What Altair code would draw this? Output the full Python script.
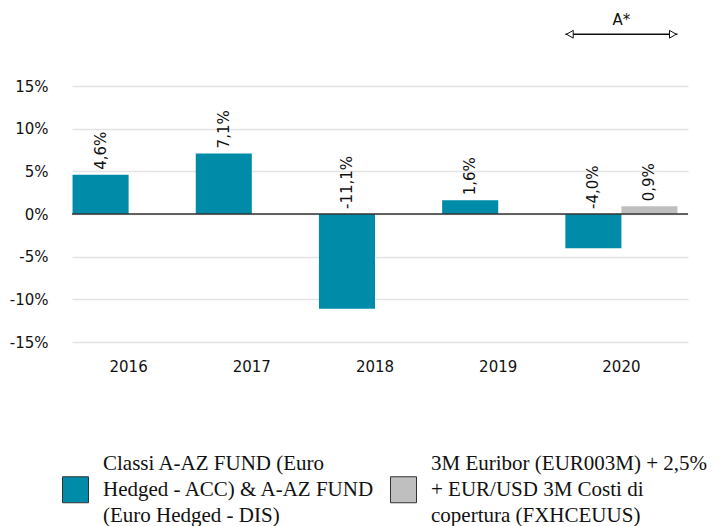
import altair as alt
import pandas as pd

years = ["2016", "2017", "2018", "2019", "2020"]
fund_values = [4.6, 7.1, -11.1, 1.6, -4.0]
bench_years = ["2020"]
bench_values = [0.9]
series_names = [
    "Classi A-AZ FUND (Euro|Hedged - ACC) & A-AZ FUND|(Euro Hedged - DIS)",
    "3M Euribor (EUR003M) + 2,5%|+ EUR/USD 3M Costi di|copertura (FXHCEUUS)",
]
colors = ["#008BA8", "#BFBFBF"]
y_ticks = [-15, -10, -5, 0, 5, 10, 15]
arrow_year = ["2020"]
arrow_label = "A*"

rows = []
for y, v in zip(years, fund_values):
    rows.append({"year": y, "series": series_names[0], "value": v})
for y, v in zip(bench_years, bench_values):
    rows.append({"year": y, "series": series_names[1], "value": v})
df = pd.DataFrame(rows)
df["label"] = df["value"].map(lambda v: f"{v:.1f}".replace(".", ",") + "%")
df["labelpos"] = df["value"].clip(lower=0)

arrow_df = pd.DataFrame({"year": arrow_year, "txt": [arrow_label]})

LINE_SHIFT = 26

xscale = alt.Scale(domain=years, paddingInner=0.09, paddingOuter=0.045, align=0.05)
yscale = alt.Scale(domain=[-15, 15])
xoff_scale = alt.Scale(domain=series_names, paddingInner=0, paddingOuter=0)

base = alt.Chart(df)

bars = base.mark_bar().encode(
    x=alt.X("year:N", scale=xscale, sort=years,
            axis=alt.Axis(title=None, labelAngle=0, ticks=False, domain=False,
                          labelFontSize=15, labelPadding=17 + LINE_SHIFT, labelColor="#111",
                          labelFont="DejaVu Sans", grid=False)),
    xOffset=alt.XOffset("series:N", sort=series_names, scale=xoff_scale),
    y=alt.Y("value:Q", scale=yscale,
            axis=alt.Axis(title=None, values=y_ticks, labelExpr="datum.value + '%'",
                          ticks=False, domain=False, labelFontSize=15, labelPadding=24,
                          labelOffset=LINE_SHIFT,
                          labelColor="#111", labelFont="DejaVu Sans",
                          gridColor="#E3E3E3", gridWidth=1.5)),
    color=alt.Color("series:N", sort=series_names,
                    scale=alt.Scale(domain=series_names, range=colors),
                    legend=alt.Legend(title=None, orient="none", legendX=-10, legendY=390,
                                      direction="horizontal", columns=2,
                                      symbolType="square", symbolSize=676,
                                      symbolStrokeColor="#333", symbolStrokeWidth=1,
                                      labelFont="Liberation Serif", labelFontSize=21,
                                      labelColor="#111", labelLimit=400,
                                      labelOffset=14, columnPadding=12,
                                      labelExpr="split(datum.label, '|')")),
)

labels = base.mark_text(angle=270, align="left", baseline="middle", dx=5,
                        fontSize=15, font="DejaVu Sans", color="#111").encode(
    x=alt.X("year:N", scale=xscale, sort=years),
    xOffset=alt.XOffset("series:N", sort=series_names, scale=xoff_scale),
    y=alt.Y("labelpos:Q", scale=yscale),
    text="label:N",
)

zero = alt.Chart(pd.DataFrame({"z": [0]})).mark_rule(color="#333", strokeWidth=1.5).encode(
    y=alt.Y("z:Q", scale=yscale)
)

arrow_line = alt.Chart(arrow_df).mark_bar(color="#111").encode(
    x=alt.X("year:N", scale=xscale, sort=years),
    y=alt.value(-52.5),
    y2=alt.value(-51),
)
arrow_left = alt.Chart(arrow_df).mark_point(shape="triangle-left", filled=True, fill="white",
                                            stroke="#111", strokeWidth=1, size=60, opacity=1).encode(
    x=alt.X("year:N", scale=xscale, sort=years),
    y=alt.value(-51.75),
    xOffset=alt.value(4.5),
)
arrow_right = alt.Chart(arrow_df).mark_point(shape="triangle-right", filled=True, fill="white",
                                             stroke="#111", strokeWidth=1, size=60, opacity=1).encode(
    x=alt.X("year:N", scale=xscale, sort=years),
    y=alt.value(-51.75),
    xOffset=alt.value(107.5),
)
arrow_text = alt.Chart(arrow_df).mark_text(fontSize=15, font="DejaVu Sans", color="#111",
                                           baseline="middle").encode(
    x=alt.X("year:N", scale=xscale, sort=years),
    y=alt.value(-66),
    text="txt:N",
)

chart = alt.layer(bars, labels, zero, arrow_line, arrow_left, arrow_right, arrow_text).properties(
    width=616, height=256,
    autosize=alt.AutoSizeParams(type="none"),
    padding={"left": 64, "top": 78, "right": 20, "bottom": 184},
).configure(
    style={"guide-label": {"lineHeight": 26, "dy": -LINE_SHIFT}},
    view=alt.ViewConfig(stroke=None),
)

chart.save("out.html", embed_options={"renderer": "svg", "actions": False})
